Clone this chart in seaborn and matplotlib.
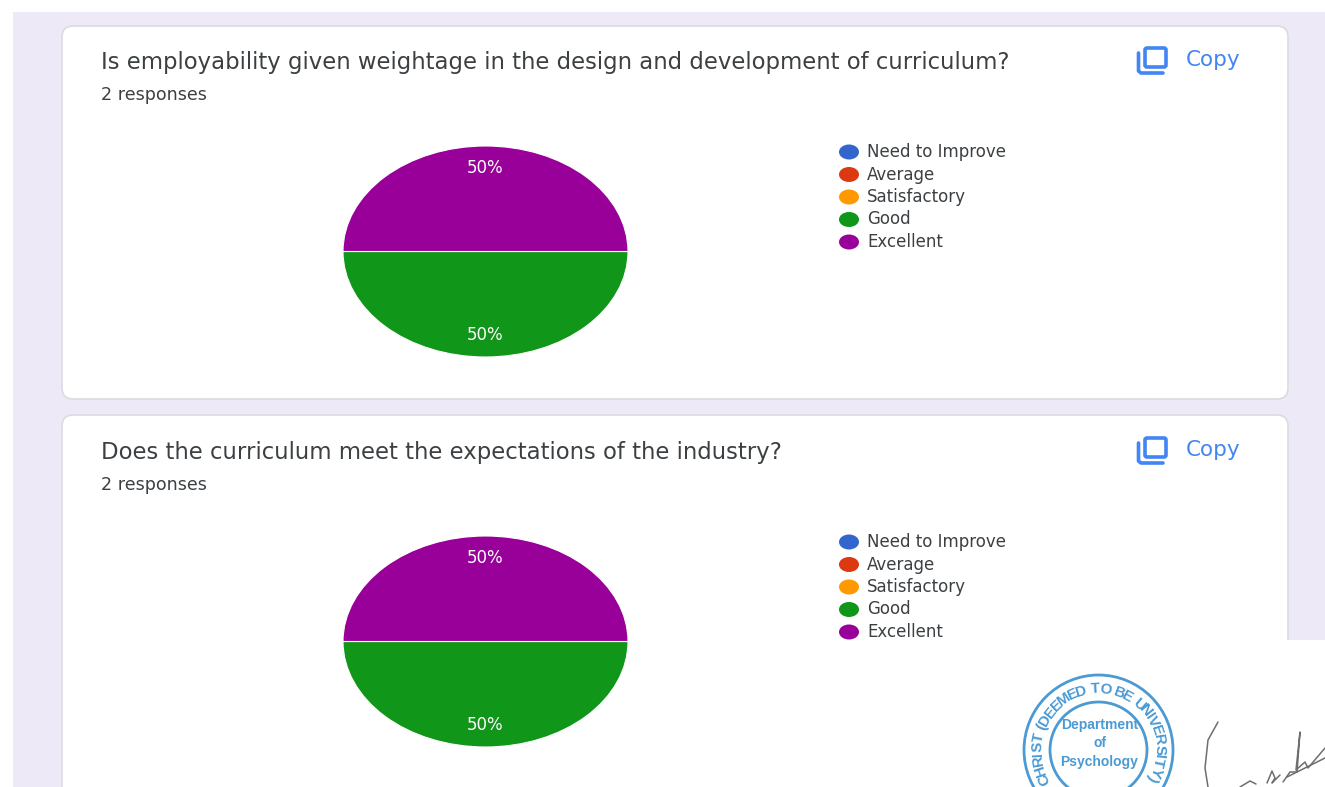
import numpy as np
import matplotlib
matplotlib.use("Agg")
import matplotlib.pyplot as plt
from matplotlib.font_manager import FontProperties
from matplotlib.patches import Ellipse, FancyBboxPatch, Rectangle
from matplotlib.textpath import TextPath
import seaborn as sns

# Survey results
questions = [
    "Is employability given weightage in the design and development of curriculum?",
    "Does the curriculum meet the expectations of the industry?",
]
response_counts = ["2 responses", "2 responses"]
ratings = ["Need to Improve", "Average", "Satisfactory", "Good", "Excellent"]
shares_q1 = [0, 0, 0, 50, 50]
shares_q2 = [0, 0, 0, 50, 50]
rating_colors = ["#3366cc", "#dc3912", "#ff9900", "#109618", "#990099"]

W, H = 1325, 787
sns.set_theme(style="white")
plt.rcParams["font.family"] = ["DejaVu Sans"]

fig = plt.figure(figsize=(W / 100, H / 100), dpi=100, facecolor="white")
page = fig.add_axes([0, 0, 1, 1])
page.set_xlim(0, W)
page.set_ylim(H, 0)
page.axis("off")

LAVENDER = "#ede9f7"
BLUE = "#4285f4"
INK = "#3c4043"
STAMP = "#4a9ad4"
PEN = "#6e6e6e"

page.add_patch(Rectangle((13, 12), W - 13, H - 12, fc=LAVENDER, ec="none"))


def draw_copy_icon(x, y):
    page.add_patch(FancyBboxPatch((x + 8, y + 1), 21, 19, boxstyle="round,pad=0,rounding_size=2",
                                  fc="none", ec=BLUE, lw=2.6))
    page.plot([x + 1.5, x + 1.5, x + 4, x + 26], [y + 6, y + 24, y + 26, y + 26],
              color=BLUE, lw=2.6, solid_capstyle="round")


def draw_card(top, bottom, content_top, title, responses, shares):
    page.add_patch(FancyBboxPatch((62, top), 1226, bottom - top,
                                  boxstyle="round,pad=0,rounding_size=11",
                                  fc="white", ec="#dadce0", lw=1.2))
    t = content_top
    page.text(101, t + 36, title, fontsize=16.4, color=INK, va="center", ha="left")
    page.text(101, t + 68.5, responses, fontsize=12.6, color=INK, va="center", ha="left")
    draw_copy_icon(1137, t + 21)
    page.text(1186, t + 34, "Copy", fontsize=15.5, color=BLUE, va="center", ha="left")

    # Pie, stretched to the wide ellipse of the card
    cy = t + 225.5
    pie_ax = fig.add_axes([343 / W, 1 - (cy + 105.5) / H, 285 / W, 211 / H])
    nonzero = [(s, c) for s, c in zip(shares, rating_colors) if s > 0]
    wedges, _, autotexts = pie_ax.pie(
        [s for s, _ in nonzero], colors=[c for _, c in nonzero],
        startangle=0, counterclock=False, radius=1,
        autopct="%d%%", pctdistance=0.79,
        wedgeprops={"edgecolor": "white", "linewidth": 0.8},
        textprops={"color": "white", "fontsize": 12},
    )
    pie_ax.set_aspect("auto")
    pie_ax.set_xlim(-1, 1)
    pie_ax.set_ylim(-1, 1)
    for w in wedges:
        w.set_clip_on(False)

    # Legend
    for i, (name, color) in enumerate(zip(ratings, rating_colors)):
        y = t + 126 + i * 22.5
        page.add_patch(Ellipse((849, y), 20, 15, fc=color, ec="none"))
        page.text(867, y, name, fontsize=12, color=INK, va="center", ha="left")


draw_card(26, 399, 26, questions[0], response_counts[0], shares_q1)
draw_card(415, 830, 416, questions[1], response_counts[1], shares_q2)

# Pasted sheet carrying the seal and signature
page.add_patch(Rectangle((640, 640), W - 640, H - 640, fc="white", ec="none", zorder=3))

cx, cy = 1098.5, 750
page.add_patch(Ellipse((cx, cy), 149, 150, fc="none", ec=STAMP, lw=2, zorder=4))
page.add_patch(Ellipse((cx, cy), 97, 96, fc="none", ec=STAMP, lw=2, zorder=4))

# Seal lettering follows the ring, spaced by each glyph's own width
seal_text = "CHRIST (DEEMED TO BE UNIVERSITY)"
seal_font = FontProperties(family="Liberation Sans", weight="bold")
advances = [3.5 if ch == " " else TextPath((0, 0), ch, size=11, prop=seal_font).get_extents().width + 1.2
            for ch in seal_text]
edges = np.concatenate([[0], np.cumsum(advances)])
centres = (edges[:-1] + edges[1:]) / 2
angles = -118 + 236 * (centres - centres[0]) / (centres[-1] - centres[0])
for ch, a in zip(seal_text, angles):
    r = 61
    t = np.deg2rad(a)
    page.text(cx + r * np.sin(t), cy - r * np.cos(t), ch, rotation=-a, rotation_mode="anchor",
              fontsize=11, color=STAMP, ha="center", va="center", zorder=4,
              family="Liberation Sans", fontweight="bold")
for line, y in zip(["Department", "of", "Psychology"], [725, 743, 762]):
    page.text(cx + 1, y, line, fontsize=10, color=STAMP, ha="center", va="center", zorder=4,
              family="Liberation Sans", fontweight="bold")

# Signature strokes
signature_strokes = [
    ([1218, 1208, 1205, 1208], [722, 740, 768, 787]),
    ([1240, 1250, 1256], [787, 781, 784]),
    ([1267, 1272, 1275, 1272, 1280], [783, 771, 778, 783, 775]),
    ([1283, 1290, 1297, 1300, 1296, 1305, 1308, 1325], [782, 772, 772, 732, 770, 762, 768, 748]),
    ([1287, 1325], [777, 758]),
]
for xs, ys in signature_strokes:
    page.plot(xs, ys, color=PEN, lw=1.1, zorder=4)

fig.savefig("out.png", dpi=100, facecolor="white")
